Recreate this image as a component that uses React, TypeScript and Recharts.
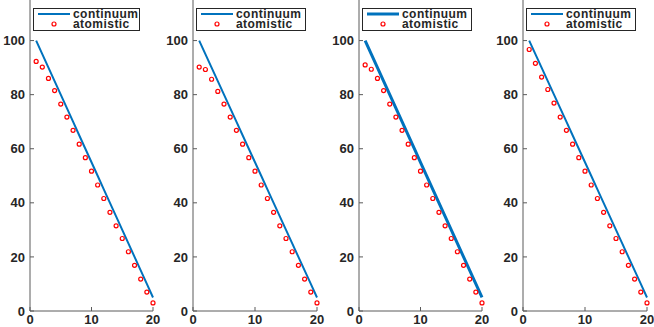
import React from 'react';
import { ComposedChart, Line, XAxis, YAxis, Legend } from 'recharts';

const xValues = [1, 2, 3, 4, 5, 6, 7, 8, 9, 10, 11, 12, 13, 14, 15, 16, 17, 18, 19, 20];
const continuum = [100, 95, 90, 85, 80, 75, 70, 65, 60, 55, 50, 45, 40, 35, 30, 25, 20, 15, 10, 5];
const atomistic1 = [92.3, 90.2, 86.0, 81.5, 76.5, 71.7, 66.8, 61.7, 56.7, 51.7, 46.6, 41.6, 36.5, 31.5, 26.8, 21.9, 16.9, 11.8, 7.0, 3.0];
const atomistic2 = [90.2, 89.3, 85.7, 81.2, 76.5, 71.7, 66.8, 61.7, 56.7, 51.7, 46.6, 41.6, 36.5, 31.5, 26.8, 21.9, 16.9, 11.8, 7.0, 3.0];
const atomistic3 = [91.0, 89.4, 86.0, 81.5, 76.5, 71.7, 66.8, 61.7, 56.7, 51.7, 46.6, 41.6, 36.5, 31.5, 26.8, 21.9, 16.9, 11.8, 7.0, 3.0];
const atomistic4 = [96.7, 91.6, 86.5, 81.9, 76.9, 71.7, 66.8, 61.7, 56.7, 51.7, 46.6, 41.6, 36.5, 31.5, 26.8, 21.9, 16.9, 11.8, 7.0, 3.0];
const atomisticSets = [atomistic1, atomistic2, atomistic3, atomistic4];
const seriesNames = ['continuum', 'atomistic'];
const xTicks = [0, 10, 20];
const yTicks = [0, 20, 40, 60, 80, 100];

const layout = [
  { plotLeft: 30, plotWidth: 123, legendOffset: 3, legendWidth: 107, lineWidth: 2 },
  { plotLeft: 193, plotWidth: 124, legendOffset: 3, legendWidth: 110, lineWidth: 2 },
  { plotLeft: 359, plotWidth: 123, legendOffset: 3, legendWidth: 110, lineWidth: 3 },
  { plotLeft: 523, plotWidth: 124, legendOffset: 3, legendWidth: 110, lineWidth: 2 },
];

const BLUE = '#0072BD';
const RED = '#FF0000';
const AXIS = '#5a5a5a';
const TEXT = '#262626';
const FONT = '"Liberation Sans", Arial, sans-serif';
const YW = 30;
const RM = 12;
const H = 327;

const axisLine = { stroke: AXIS, strokeWidth: 1 };
const tickStyle = { fill: TEXT, fontSize: 13, fontWeight: 'bold', fontFamily: FONT };

function LegendBox({ w, lineWidth }: { w: number; lineWidth: number }) {
  const txt = { fill: TEXT, fontSize: 12, fontWeight: 'bold' as const, fontFamily: FONT, letterSpacing: 0.45 };
  return (
    <svg width={w} height={23} style={{ display: 'block' }}>
      <rect x={0.5} y={0.5} width={w - 1} height={22} fill="#fff" stroke={TEXT} strokeWidth={1} />
      <line x1={5} x2={37} y1={6} y2={6} stroke={BLUE} strokeWidth={lineWidth} />
      <text x={40} y={9.5} {...txt}>
        {seriesNames[0]}
      </text>
      <circle cx={21} cy={16} r={2} fill="none" stroke={RED} strokeWidth={1.2} />
      <text x={40} y={19.5} {...txt}>
        {seriesNames[1]}
      </text>
    </svg>
  );
}

function Panel({ idx }: { idx: number }) {
  const L = layout[idx];
  const rows = xValues.map((x, i) => ({ x, continuum: continuum[i], atomistic: atomisticSets[idx][i] }));
  return (
    <div style={{ position: 'absolute', left: L.plotLeft - YW, top: 0 }}>
      <ComposedChart
        width={YW + L.plotWidth + RM}
        height={H}
        data={rows}
        margin={{ top: 0, right: RM, bottom: 0, left: 0 }}
      >
        <XAxis
          xAxisId="b"
          dataKey="x"
          type="number"
          domain={[0, 20]}
          ticks={xTicks}
          interval={0}
          height={16}
          tickSize={-4}
          tickMargin={8}
          axisLine={axisLine}
          tickLine={axisLine}
          tick={tickStyle}
        />
        <XAxis
          xAxisId="t"
          orientation="top"
          dataKey="x"
          type="number"
          domain={[0, 20]}
          ticks={xTicks}
          interval={0}
          height={0}
          tickSize={-4}
          axisLine={axisLine}
          tickLine={axisLine}
          tick={false}
        />
        <YAxis
          yAxisId="l"
          type="number"
          domain={[0, 115]}
          ticks={yTicks}
          interval={0}
          width={YW}
          tickSize={-4}
          tickMargin={9}
          axisLine={axisLine}
          tickLine={axisLine}
          tick={tickStyle}
        />
        <YAxis
          yAxisId="r"
          orientation="right"
          type="number"
          domain={[0, 115]}
          ticks={yTicks}
          interval={0}
          width={0}
          tickSize={-4}
          axisLine={axisLine}
          tickLine={axisLine}
          tick={false}
        />
        <Line
          xAxisId="b"
          yAxisId="l"
          dataKey="continuum"
          name={seriesNames[0]}
          stroke={BLUE}
          strokeWidth={L.lineWidth}
          dot={false}
          activeDot={false}
          isAnimationActive={false}
        />
        <Line
          xAxisId="b"
          yAxisId="l"
          dataKey="atomistic"
          name={seriesNames[1]}
          stroke="none"
          strokeWidth={0}
          dot={{ r: 2, stroke: RED, strokeWidth: 1.2, fill: 'none' }}
          activeDot={false}
          isAnimationActive={false}
        />
        <Legend
          layout="vertical"
          align="center"
          verticalAlign="middle"
          content={() => <LegendBox w={L.legendWidth} lineWidth={L.lineWidth} />}
          wrapperStyle={{ position: 'absolute', left: YW + L.legendOffset, top: 8, width: L.legendWidth, height: 23 }}
        />
      </ComposedChart>
    </div>
  );
}

export default function App() {
  return (
    <div style={{ position: 'absolute', left: 0, top: 0, width: 654, height: H, background: '#fff' }}>
      {layout.map((_, i) => (
        <Panel key={i} idx={i} />
      ))}
    </div>
  );
}
